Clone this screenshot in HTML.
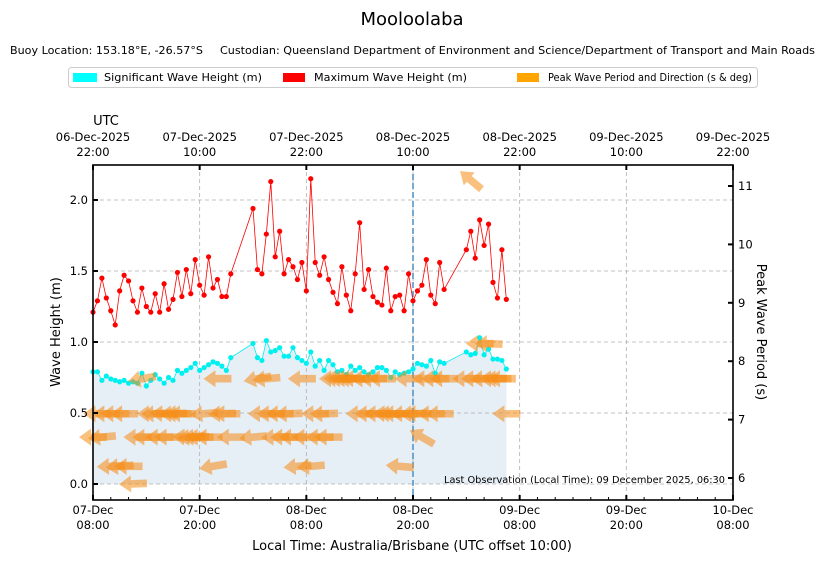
<!DOCTYPE html>
<html><head><meta charset="utf-8">
<style>
html,body{margin:0;padding:0;background:#fff;}
svg{display:block;font-family:"DejaVu Sans","Liberation Sans",sans-serif;}
</style></head>
<body>
<svg id="chart" width="825" height="562" viewBox="0 0 825 562" xmlns="http://www.w3.org/2000/svg">
<text x="412" y="25" font-size="18" text-anchor="middle">Mooloolaba</text>
<text x="10" y="54" font-size="11" textLength="193" lengthAdjust="spacingAndGlyphs">Buoy Location: 153.18°E, -26.57°S</text>
<text x="220" y="54" font-size="11" textLength="595" lengthAdjust="spacingAndGlyphs">Custodian: Queensland Department of Environment and Science/Department of Transport and Main Roads</text>
<g>
<rect x="68.5" y="67.5" width="689" height="20" rx="3" fill="#fff" stroke="#ccc"/>
<rect x="73" y="73" width="24" height="9" fill="#00ffff"/>
<text x="104" y="81" font-size="11" textLength="158" lengthAdjust="spacingAndGlyphs">Significant Wave Height (m)</text>
<rect x="283" y="73" width="22" height="9" fill="#ff0000"/>
<text x="314" y="81" font-size="11" textLength="153" lengthAdjust="spacingAndGlyphs">Maximum Wave Height (m)</text>
<rect x="517" y="73" width="22" height="9" fill="#ffa500"/>
<text x="548" y="81" font-size="11" textLength="204" lengthAdjust="spacingAndGlyphs">Peak Wave Period and Direction (s &amp; deg)</text>
</g>
<g id="plot"></g>
</svg>
<script>
const hours=[0,0.5,1,1.5,2,2.5,3,3.5,4,4.5,5,5.5,6,6.5,7,7.5,8,8.5,9,9.5,10,10.5,11,11.5,12,12.5,13,13.5,14,14.5,15,15.5,
18,18.5,19,19.5,20,20.5,21,21.5,22,22.5,23,23.5,24,24.5,25,25.5,26,26.5,27,27.5,28,28.5,29,29.5,30,30.5,31,31.5,32,32.5,33,33.5,34,34.5,35,35.5,36,36.5,37,37.5,38,38.5,39,39.5,
42,42.5,43,43.5,44,44.5,45,45.5,46,46.5];
const hmax=[1.21,1.29,1.45,1.31,1.22,1.12,1.36,1.47,1.43,1.29,1.21,1.38,1.25,1.21,1.34,1.21,1.41,1.23,1.30,1.49,1.32,1.51,1.34,1.58,1.40,1.33,1.60,1.38,1.44,1.32,1.32,1.48,
1.94,1.51,1.48,1.76,2.13,1.60,1.78,1.48,1.58,1.53,1.44,1.56,1.36,2.15,1.56,1.47,1.60,1.44,1.35,1.27,1.53,1.33,1.22,1.48,1.84,1.37,1.51,1.32,1.28,1.26,1.52,1.22,1.32,1.33,1.22,1.48,1.29,1.36,1.40,1.58,1.33,1.27,1.56,1.37,
1.65,1.78,1.59,1.86,1.68,1.83,1.42,1.31,1.65,1.30];
const hsig=[0.79,0.79,0.73,0.76,0.74,0.73,0.72,0.73,0.71,0.72,0.71,0.78,0.69,0.73,0.77,0.74,0.71,0.75,0.73,0.80,0.78,0.80,0.82,0.85,0.80,0.82,0.84,0.86,0.85,0.83,0.80,0.89,
0.99,0.89,0.87,1.01,0.93,0.94,0.96,0.90,0.90,0.96,0.89,0.87,0.85,0.93,0.83,0.87,0.80,0.87,0.84,0.79,0.80,0.77,0.83,0.80,0.82,0.79,0.77,0.79,0.82,0.82,0.80,0.75,0.79,0.77,0.78,0.79,0.81,0.85,0.84,0.83,0.87,0.78,0.86,0.85,
0.93,0.91,0.92,1.03,0.91,0.95,0.88,0.88,0.87,0.81];
const tp=[6.7,7.1,6.7,7.1,6.2,7.1,6.2,7.1,6.2,5.9,6.7,7.7,6.7,7.1,7.1,6.7,7.1,6.7,7.1,7.1,7.1,6.7,6.7,6.7,6.7,7.1,6.7,6.2,7.7,7.1,7.1,6.7,
6.7,7.7,7.1,7.7,7.1,6.7,7.1,6.7,7.1,6.7,6.2,7.7,6.7,6.2,7.1,6.7,7.1,6.7,7.7,7.7,7.7,7.7,7.7,7.7,7.1,7.7,7.1,7.7,7.1,7.7,7.1,7.1,7.1,6.2,7.1,7.7,7.1,7.1,6.7,7.7,7.1,7.7,7.1,7.7,
7.7,11.1,7.7,8.3,7.7,8.3,7.7,7.7,7.7,7.1];
const dirs=[90,90,85,90,88,90,85,90,90,88,90,80,90,90,88,90,92,90,88,90,90,92,85,88,90,85,90,80,90,88,90,90,
85,80,90,85,90,88,90,90,88,90,85,90,90,85,90,90,88,90,90,92,90,88,90,92,90,88,90,90,90,90,92,90,90,95,90,90,88,90,120,90,90,90,90,90,
90,130,90,90,88,92,90,90,90,90];
const yTicks=[0.0,0.5,1.0,1.5,2.0];
const rTicks=[6,7,8,9,10,11];
const xTickHours=[0,12,24,36,48,60,72];
const botDate=["07-Dec","07-Dec","08-Dec","08-Dec","09-Dec","09-Dec","10-Dec"];
const botTime=["08:00","20:00","08:00","20:00","08:00","20:00","08:00"];
const topDate=["06-Dec-2025","07-Dec-2025","07-Dec-2025","08-Dec-2025","08-Dec-2025","09-Dec-2025","09-Dec-2025"];
const topTime=["22:00","10:00","22:00","10:00","22:00","10:00","22:00"];
const nowHour=36;

const L=93,R=733,T=165,B=500;
const X=h=>L+h*(R-L)/72;
const Y=v=>484-v*142;
const YR=p=>478-(p-6)*58.4;
const NS="http://www.w3.org/2000/svg";
const g=document.getElementById('plot');
function mk(tag,attrs,parent){const e=document.createElementNS(NS,tag);for(const k in attrs)e.setAttribute(k,attrs[k]);(parent||g).appendChild(e);return e;}

let pts=hours.map((h,i)=>X(h)+','+Y(hsig[i])).join(' ');
pts=X(hours[0])+','+Y(0)+' '+pts+' '+X(hours[hours.length-1])+','+Y(0);
const fill=mk('polygon',{points:pts,fill:'#e6eef6'});



xTickHours.forEach((h,i)=>{if(i>0&&i<6){const l=mk('line',{x1:X(h),x2:X(h),y1:T,y2:B,stroke:'#b0b0b0','stroke-dasharray':'4,3','stroke-width':0.8});

}});
yTicks.forEach(v=>{const l=mk('line',{x1:L,x2:R,y1:Y(v),y2:Y(v),stroke:'#b0b0b0','stroke-dasharray':'4,3','stroke-width':0.8});

});

const nl=mk('line',{x1:X(nowHour),x2:X(nowHour),y1:T,y2:B,stroke:'#4a8fc4','stroke-dasharray':'6,3','stroke-width':1.5});



function drawSeries(vals,col,name){
  const sg=mk('g',{});
  
  
  const p=mk('polyline',{points:hours.map((h,i)=>X(h)+','+Y(vals[i])).join(' '),fill:'none',stroke:col,'stroke-width':0.8},sg);
  
  
  hours.forEach((h,i)=>{const c=mk('circle',{cx:X(h),cy:Y(vals[i]),r:2.6,fill:col},sg);
    
    });
}
drawSeries(hmax,'#ff0000','max-height');
drawSeries(hsig,'#00f0f0','sig-height');

const ag=mk('g',{});


hours.forEach((h,i)=>{
  const b=(dirs[i]+180)*Math.PI/180;
  const ang=Math.atan2(-Math.cos(b),Math.sin(b))*180/Math.PI;
  const a=mk('path',{d:'M-14,-3.8 L2,-3.8 L2,-8.5 L14,0 L2,8.5 L2,3.8 L-14,3.8 Z',fill:'rgba(245,140,20,0.55)',
    transform:'translate('+X(h)+','+YR(tp[i])+') rotate('+ang+')'},ag);
  
  
});

const fr=mk('rect',{x:L,y:T,width:R-L,height:B-T,fill:'none',stroke:'#000','stroke-width':1.6});



for(let h=0;h<=72;h+=2){const major=h%12===0;mk('line',{x1:X(h),x2:X(h),y1:B,y2:B+(major?-5:-3),stroke:'#000','stroke-width':major?2:1});}
xTickHours.forEach((h,i)=>{
  const t1=mk('text',{x:X(h),y:514,'font-size':11.5,'text-anchor':'middle'});t1.textContent=botDate[i];
  
  
  const t2=mk('text',{x:X(h),y:529,'font-size':11.5,'text-anchor':'middle'});t2.textContent=botTime[i];
  
  
  mk('line',{x1:X(h),x2:X(h),y1:T,y2:T+5,stroke:'#000','stroke-width':2});
  const t3=mk('text',{x:X(h),y:141,'font-size':11.5,'text-anchor':'middle'});t3.textContent=topDate[i];
  
  
  const t4=mk('text',{x:X(h),y:156,'font-size':11.5,'text-anchor':'middle'});t4.textContent=topTime[i];
  
  
});
yTicks.forEach(v=>{mk('line',{x1:L,x2:L+5,y1:Y(v),y2:Y(v),stroke:'#000','stroke-width':2});
  const t=mk('text',{x:L-5,y:Y(v)+4,'font-size':11.5,'text-anchor':'end'});t.textContent=v.toFixed(1);
  
  });
rTicks.forEach(v=>{mk('line',{x1:R,x2:R-5,y1:YR(v),y2:YR(v),stroke:'#000','stroke-width':2});
  const t=mk('text',{x:R+5,y:YR(v)+4,'font-size':11.5});t.textContent=v;
  
  });
</script>
<svg style="position:absolute;left:0;top:0" width="825" height="562" xmlns="http://www.w3.org/2000/svg" font-family="DejaVu Sans, Liberation Sans, sans-serif">
<text x="106" y="125" font-size="13" text-anchor="middle">UTC</text>
<text x="725" y="483" font-size="10" text-anchor="end" textLength="281" lengthAdjust="spacingAndGlyphs">Last Observation (Local Time): 09 December 2025, 06:30</text>
<text x="412" y="550" font-size="13" text-anchor="middle">Local Time: Australia/Brisbane (UTC offset 10:00)</text>
<text transform="translate(60,332) rotate(-90)" font-size="13" text-anchor="middle">Wave Height (m)</text>
<text transform="translate(757,332) rotate(90)" font-size="13" text-anchor="middle">Peak Wave Period (s)</text>
</svg>
</body></html>
